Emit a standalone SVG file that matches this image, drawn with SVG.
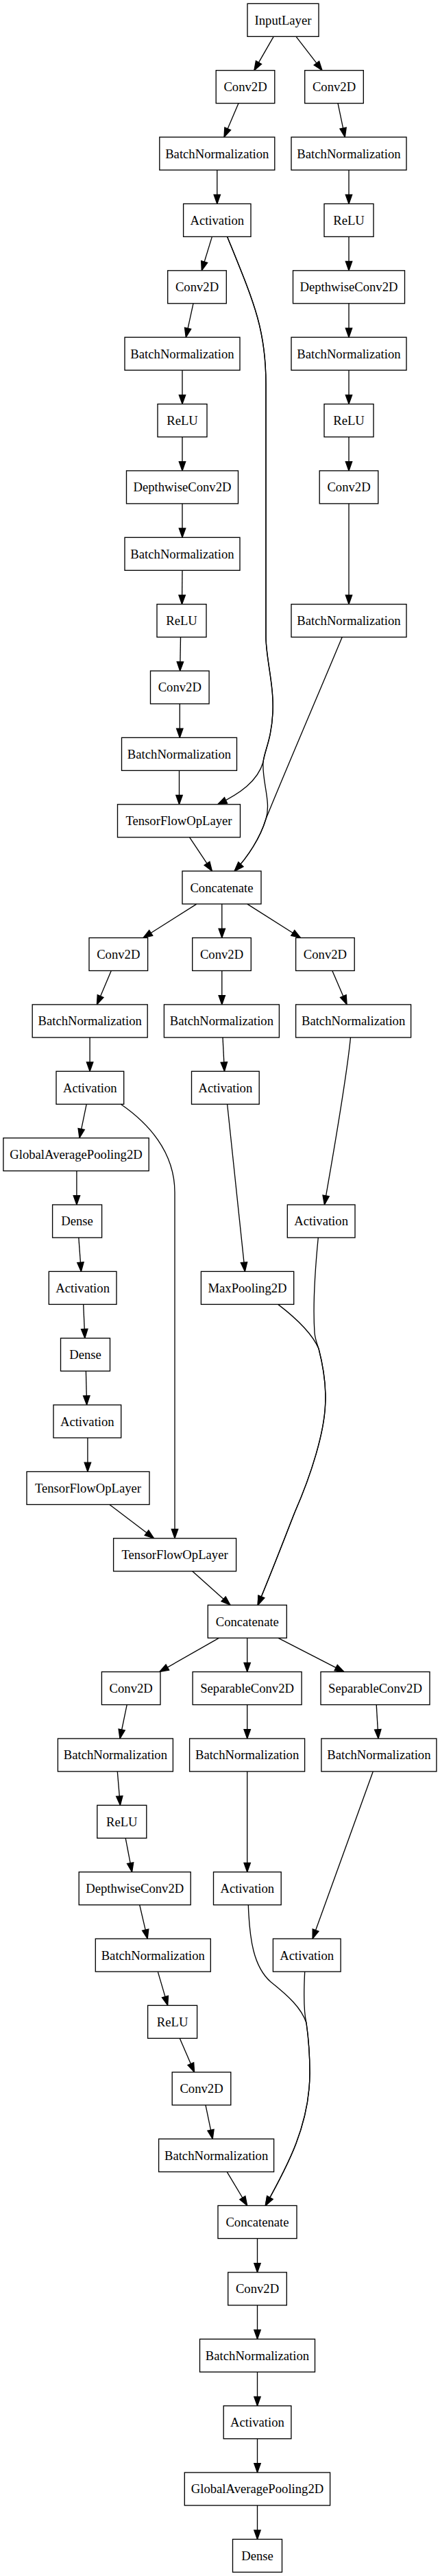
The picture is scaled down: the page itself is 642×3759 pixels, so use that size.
<svg xmlns="http://www.w3.org/2000/svg" width="642" height="3759" viewBox="0 0 642 3759">
<style>
.n rect{fill:#fff;stroke:#000;stroke-width:1.33}
.n text{font-family:"Liberation Serif","Times New Roman",serif;font-size:18.67px;text-anchor:middle;fill:#000}
.e path{fill:none;stroke:#000;stroke-width:1.33;marker-end:url(#ah)}
</style>
<defs>
<marker id="ah" markerUnits="userSpaceOnUse" markerWidth="16" markerHeight="12" refX="13.3" refY="0" orient="auto" overflow="visible">
<path d="M0,-4.7 L13.3,0 L0,4.7 z" fill="#000" stroke="#000" stroke-width="1.33"/>
</marker>
</defs>
<rect width="642" height="3759" fill="#fff"/>
<g id="edges" class="e">
<path d="M399.2,53.3 L370.9,102.7"/>
<path d="M432,53.3 L470,102.7"/>
<path d="M348,150.7 L327,200.1"/>
<path d="M493,150.7 L503.3,200.1"/>
<path d="M316.8,248.1 L316.8,297.4"/>
<path d="M509,248.1 L509,297.4"/>
<path d="M309.4,345.4 L294.3,394.8"/>
<path d="M331.6,345.4 C370,440 388,480 388,560 L388,930 C388,960 400,1000 398,1040 C396,1080 386,1095 384,1112 C376,1140 350,1158 317.6,1173.8"/>
<path d="M331.6,345.4 C370,440 388,480 388,560 L388,930 C388,960 400,1000 398,1040 C396,1080 386,1095 384,1112 C382,1140 396,1170 388,1195 C380,1222 362,1250 342.2,1271.1"/>
<path d="M499.2,929.7 C470,1000 410,1140 388,1195 C380,1222 362,1250 342.2,1271.1"/>
<path d="M509,345.4 L509,394.8"/>
<path d="M282,442.8 L271.3,492.2"/>
<path d="M509,442.8 L509,492.2"/>
<path d="M266,540.2 L266,589.6"/>
<path d="M509,540.2 L509,589.6"/>
<path d="M266,637.6 L266,686.9"/>
<path d="M509,637.6 L509,686.9"/>
<path d="M266,734.9 L266,784.3"/>
<path d="M509,734.9 L509,881.7"/>
<path d="M266,832.3 L265.5,881.7"/>
<path d="M263.5,929.7 L262.7,979"/>
<path d="M262.3,1027 L262.3,1076.4"/>
<path d="M261.5,1124.4 L261.5,1173.8"/>
<path d="M276.6,1221.8 L309.4,1271.1"/>
<path d="M287,1319.1 L209,1368.5"/>
<path d="M323.8,1319.1 L323.8,1368.5"/>
<path d="M360.7,1319.1 L438.5,1368.5"/>
<path d="M162.3,1416.5 L141.4,1465.9"/>
<path d="M323.8,1416.5 L323.8,1465.9"/>
<path d="M484.8,1416.5 L506.1,1465.9"/>
<path d="M131.1,1513.9 L131.1,1563.3"/>
<path d="M325,1513.9 L327.5,1563.3"/>
<path d="M511.5,1513.9 C505,1580 485,1690 473.4,1758"/>
<path d="M126.2,1611.3 L116,1660.6"/>
<path d="M176.2,1611.3 C215,1638 255,1680 255,1740 L255,2244.8"/>
<path d="M331.6,1611.3 L357.4,1855.4"/>
<path d="M111.9,1708.6 L111.9,1758"/>
<path d="M114.8,1806 L118.4,1855.4"/>
<path d="M121.7,1903.4 L123.8,1952.7"/>
<path d="M405.7,1903.4 C430,1922 455,1945 465,1968 C472,1995 476,2025 474.6,2050 C473,2090 455,2150 430,2207 C415,2245 398,2290 376.2,2342.2"/>
<path d="M464.3,1806 C460,1850 456,1900 459,1945 C460,1955 463,1962 465,1968 C472,1995 476,2025 474.6,2050 C473,2090 455,2150 430,2207 C415,2245 398,2290 376.2,2342.2"/>
<path d="M125.4,2000.7 L126.6,2050.1"/>
<path d="M127.9,2098.1 L127.9,2147.5"/>
<path d="M159.8,2195.5 L224.6,2244.8"/>
<path d="M280.7,2292.8 L336,2342.2"/>
<path d="M319.7,2390.2 L232.8,2439.6"/>
<path d="M360.7,2390.2 L360.7,2439.6"/>
<path d="M405.7,2390.2 L502,2439.6"/>
<path d="M185.2,2487.6 L175,2537"/>
<path d="M360.7,2487.6 L360.7,2537"/>
<path d="M549.2,2487.6 L552,2537"/>
<path d="M171.3,2585 L175.4,2634.3"/>
<path d="M360.7,2585 L360.7,2731.7"/>
<path d="M544.3,2585 L456.1,2829.1"/>
<path d="M183.2,2682.3 L192.6,2731.7"/>
<path d="M203.7,2779.7 L215.2,2829.1"/>
<path d="M230.3,2877.1 L244.7,2926.4"/>
<path d="M262.3,2974.4 L283.6,3023.8"/>
<path d="M362.3,2779.7 C364,2830 370,2870 395,2892 C420,2912 440,2930 447,2952 C451,2980 452,3005 452,3025 C452,3100 420,3160 387.3,3218.5"/>
<path d="M444.7,2877.1 C443,2910 443,2935 447,2952 C451,2980 452,3005 452,3025 C452,3100 420,3160 387.3,3218.5"/>
<path d="M300,3071.8 L310.2,3121.2"/>
<path d="M331.1,3169.2 L360.7,3218.5"/>
<path d="M375.5,3266.5 L375.5,3315.9"/>
<path d="M375.5,3363.9 L375.5,3413.3"/>
<path d="M375.5,3461.3 L375.5,3510.7"/>
<path d="M375.5,3558.7 L375.5,3608"/>
<path d="M375.5,3656 L375.5,3705.4"/>
</g>
<g id="n_input" class="n"><rect x="361" y="5.33" width="104" height="48"/><text x="413" y="35.7">InputLayer</text></g>
<g id="n_conv_a1" class="n"><rect x="315.2" y="102.7" width="85.6" height="48"/><text x="358" y="133.1">Conv2D</text></g>
<g id="n_conv_b1" class="n"><rect x="444.7" y="102.7" width="85.6" height="48"/><text x="487.5" y="133.1">Conv2D</text></g>
<g id="n_bn_a2" class="n"><rect x="232.8" y="200.1" width="168" height="48"/><text x="316.8" y="230.5">BatchNormalization</text></g>
<g id="n_bn_b2" class="n"><rect x="425" y="200.1" width="168" height="48"/><text x="509" y="230.5">BatchNormalization</text></g>
<g id="n_act_a3" class="n"><rect x="267.6" y="297.4" width="98.4" height="48"/><text x="316.8" y="327.8">Activation</text></g>
<g id="n_relu_b3" class="n"><rect x="473" y="297.4" width="72" height="48"/><text x="509" y="327.8">ReLU</text></g>
<g id="n_conv_a4" class="n"><rect x="244.7" y="394.8" width="85.6" height="48"/><text x="287.5" y="425.2">Conv2D</text></g>
<g id="n_dw_b4" class="n"><rect x="427.5" y="394.8" width="163" height="48"/><text x="509" y="425.2">DepthwiseConv2D</text></g>
<g id="n_bn_a5" class="n"><rect x="182" y="492.2" width="168" height="48"/><text x="266" y="522.6">BatchNormalization</text></g>
<g id="n_bn_b5" class="n"><rect x="425" y="492.2" width="168" height="48"/><text x="509" y="522.6">BatchNormalization</text></g>
<g id="n_relu_a6" class="n"><rect x="230" y="589.6" width="72" height="48"/><text x="266" y="620">ReLU</text></g>
<g id="n_relu_b6" class="n"><rect x="473" y="589.6" width="72" height="48"/><text x="509" y="620">ReLU</text></g>
<g id="n_dw_a7" class="n"><rect x="184.5" y="686.9" width="163" height="48"/><text x="266" y="717.3">DepthwiseConv2D</text></g>
<g id="n_conv_b7" class="n"><rect x="466.2" y="686.9" width="85.6" height="48"/><text x="509" y="717.3">Conv2D</text></g>
<g id="n_bn_a8" class="n"><rect x="182" y="784.3" width="168" height="48"/><text x="266" y="814.7">BatchNormalization</text></g>
<g id="n_relu_a9" class="n"><rect x="229" y="881.7" width="72" height="48"/><text x="265" y="912.1">ReLU</text></g>
<g id="n_bn_b9" class="n"><rect x="425" y="881.7" width="168" height="48"/><text x="509" y="912.1">BatchNormalization</text></g>
<g id="n_conv_a10" class="n"><rect x="219.5" y="979" width="85.6" height="48"/><text x="262.3" y="1009.4">Conv2D</text></g>
<g id="n_bn_a11" class="n"><rect x="177.5" y="1076.4" width="168" height="48"/><text x="261.5" y="1106.8">BatchNormalization</text></g>
<g id="n_tfop_12" class="n"><rect x="171.5" y="1173.8" width="179" height="48"/><text x="261" y="1204.2">TensorFlowOpLayer</text></g>
<g id="n_concat_13" class="n"><rect x="266" y="1271.1" width="115" height="48"/><text x="323.5" y="1301.5">Concatenate</text></g>
<g id="n_conv_a14" class="n"><rect x="130" y="1368.5" width="85.6" height="48"/><text x="172.8" y="1398.9">Conv2D</text></g>
<g id="n_conv_b14" class="n"><rect x="280.7" y="1368.5" width="85.6" height="48"/><text x="323.5" y="1398.9">Conv2D</text></g>
<g id="n_conv_d14" class="n"><rect x="431.6" y="1368.5" width="85.6" height="48"/><text x="474.4" y="1398.9">Conv2D</text></g>
<g id="n_bn_a15" class="n"><rect x="47.2" y="1465.9" width="168" height="48"/><text x="131.2" y="1496.3">BatchNormalization</text></g>
<g id="n_bn_b15" class="n"><rect x="239.4" y="1465.9" width="168" height="48"/><text x="323.4" y="1496.3">BatchNormalization</text></g>
<g id="n_bn_d15" class="n"><rect x="431.6" y="1465.9" width="168" height="48"/><text x="515.6" y="1496.3">BatchNormalization</text></g>
<g id="n_act_a16" class="n"><rect x="82" y="1563.3" width="98.7" height="48"/><text x="131.3" y="1593.7">Activation</text></g>
<g id="n_act_b16" class="n"><rect x="279.5" y="1563.3" width="98.7" height="48"/><text x="328.9" y="1593.7">Activation</text></g>
<g id="n_gap_a17" class="n"><rect x="4.9" y="1660.6" width="212.3" height="48"/><text x="111" y="1691">GlobalAveragePooling2D</text></g>
<g id="n_dense_a18" class="n"><rect x="76.6" y="1758" width="72" height="48"/><text x="112.6" y="1788.4">Dense</text></g>
<g id="n_act_d18" class="n"><rect x="419.3" y="1758" width="98.7" height="48"/><text x="468.6" y="1788.4">Activation</text></g>
<g id="n_act_a19" class="n"><rect x="71.3" y="1855.4" width="98.7" height="48"/><text x="120.6" y="1885.8">Activation</text></g>
<g id="n_pool_b19" class="n"><rect x="293.4" y="1855.4" width="135.3" height="48"/><text x="361" y="1885.8">MaxPooling2D</text></g>
<g id="n_dense_a20" class="n"><rect x="88.5" y="1952.7" width="72" height="48"/><text x="124.5" y="1983.1">Dense</text></g>
<g id="n_act_a21" class="n"><rect x="78" y="2050.1" width="98.7" height="48"/><text x="127.3" y="2080.5">Activation</text></g>
<g id="n_tfop_a22" class="n"><rect x="39" y="2147.5" width="179" height="48"/><text x="128.5" y="2177.9">TensorFlowOpLayer</text></g>
<g id="n_tfop_23" class="n"><rect x="165.6" y="2244.8" width="179" height="48"/><text x="255.1" y="2275.2">TensorFlowOpLayer</text></g>
<g id="n_concat_24" class="n"><rect x="303.3" y="2342.2" width="115" height="48"/><text x="360.8" y="2372.6">Concatenate</text></g>
<g id="n_conv_e25" class="n"><rect x="148.4" y="2439.6" width="85.6" height="48"/><text x="191.2" y="2470">Conv2D</text></g>
<g id="n_sep_f25" class="n"><rect x="281.1" y="2439.6" width="159" height="48"/><text x="360.6" y="2470">SeparableConv2D</text></g>
<g id="n_sep_g25" class="n"><rect x="468" y="2439.6" width="159" height="48"/><text x="547.5" y="2470">SeparableConv2D</text></g>
<g id="n_bn_e26" class="n"><rect x="84.4" y="2537" width="168" height="48"/><text x="168.4" y="2567.4">BatchNormalization</text></g>
<g id="n_bn_f26" class="n"><rect x="276.6" y="2537" width="168" height="48"/><text x="360.6" y="2567.4">BatchNormalization</text></g>
<g id="n_bn_g26" class="n"><rect x="468.9" y="2537" width="168" height="48"/><text x="552.9" y="2567.4">BatchNormalization</text></g>
<g id="n_relu_e27" class="n"><rect x="141.8" y="2634.3" width="72" height="48"/><text x="177.8" y="2664.7">ReLU</text></g>
<g id="n_dw_e28" class="n"><rect x="115.2" y="2731.7" width="163" height="48"/><text x="196.7" y="2762.1">DepthwiseConv2D</text></g>
<g id="n_act_f28" class="n"><rect x="311.5" y="2731.7" width="98.7" height="48"/><text x="360.8" y="2762.1">Activation</text></g>
<g id="n_bn_e29" class="n"><rect x="139.3" y="2829.1" width="168" height="48"/><text x="223.3" y="2859.5">BatchNormalization</text></g>
<g id="n_act_g29" class="n"><rect x="398.4" y="2829.1" width="98.7" height="48"/><text x="447.7" y="2859.5">Activation</text></g>
<g id="n_relu_e30" class="n"><rect x="215.6" y="2926.4" width="72" height="48"/><text x="251.6" y="2956.8">ReLU</text></g>
<g id="n_conv_e31" class="n"><rect x="251.2" y="3023.8" width="85.6" height="48"/><text x="294" y="3054.2">Conv2D</text></g>
<g id="n_bn_e32" class="n"><rect x="231.6" y="3121.2" width="168" height="48"/><text x="315.6" y="3151.6">BatchNormalization</text></g>
<g id="n_concat_33" class="n"><rect x="318" y="3218.5" width="115" height="48"/><text x="375.5" y="3248.9">Concatenate</text></g>
<g id="n_conv_34" class="n"><rect x="332.7" y="3315.9" width="85.6" height="48"/><text x="375.5" y="3346.3">Conv2D</text></g>
<g id="n_bn_35" class="n"><rect x="291.5" y="3413.3" width="168" height="48"/><text x="375.5" y="3443.7">BatchNormalization</text></g>
<g id="n_act_36" class="n"><rect x="326.2" y="3510.7" width="98.7" height="48"/><text x="375.5" y="3541.1">Activation</text></g>
<g id="n_gap_37" class="n"><rect x="269.3" y="3608" width="212.3" height="48"/><text x="375.5" y="3638.4">GlobalAveragePooling2D</text></g>
<g id="n_dense_38" class="n"><rect x="339.5" y="3705.4" width="72" height="48"/><text x="375.5" y="3735.8">Dense</text></g>
</svg>
